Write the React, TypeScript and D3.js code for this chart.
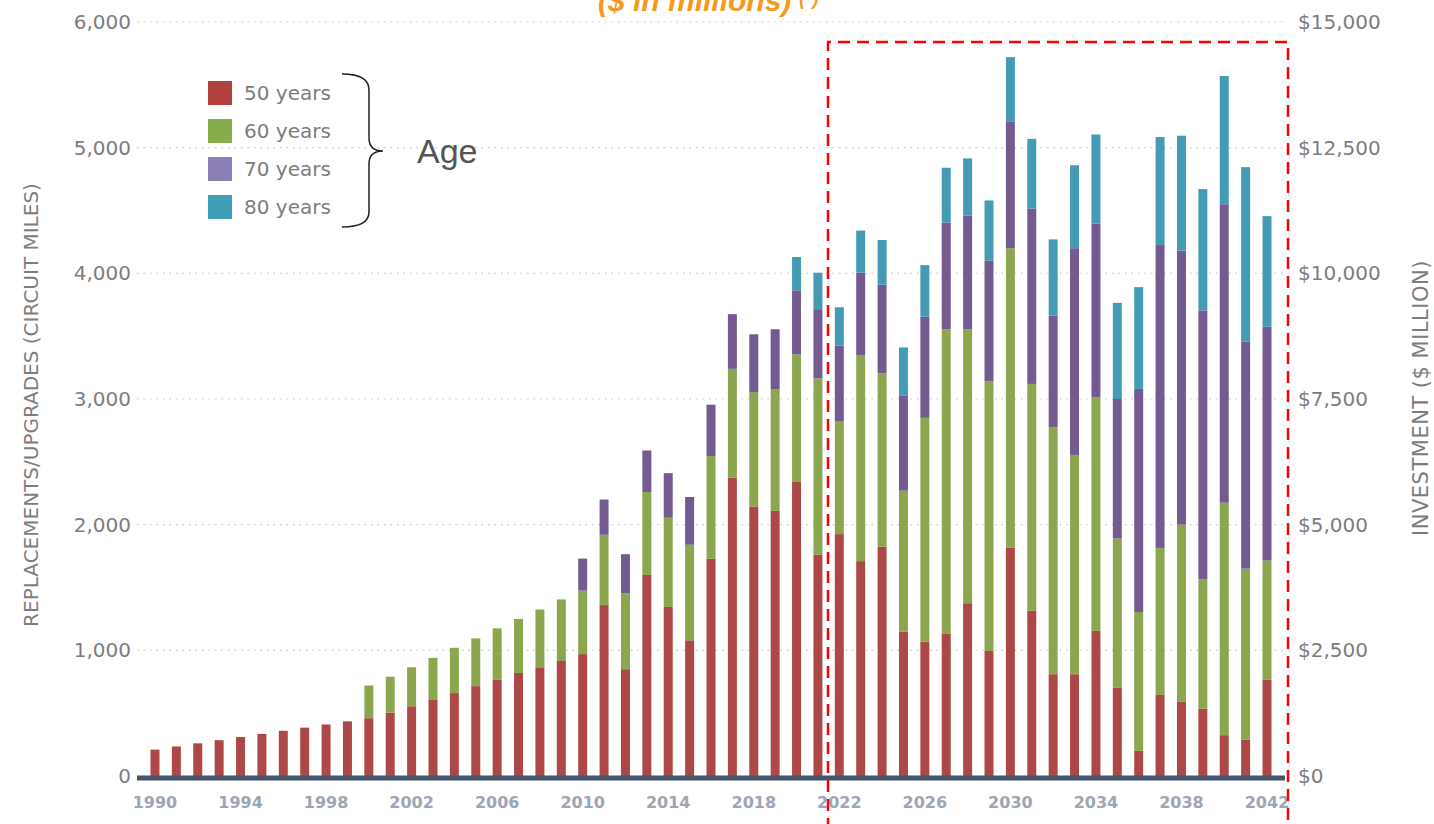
import React from "react";
import * as d3 from "d3";

const years = d3.range(1990, 2043);
const age50 = [210, 235, 260, 285, 310, 335, 360, 385, 410, 435, 460, 505, 555, 610, 660, 715, 765, 820, 865, 915, 970, 1360, 850, 1600, 1345, 1080, 1730, 2375, 2145, 2110, 2340, 1760, 1925, 1710, 1825, 1150, 1070, 1135, 1375, 995, 1815, 1315, 810, 810, 1155, 705, 200, 645, 590, 535, 325, 290, 765];
const age60 = [0, 0, 0, 0, 0, 0, 0, 0, 0, 0, 260, 285, 310, 330, 360, 380, 410, 430, 460, 490, 505, 560, 605, 660, 710, 760, 815, 865, 910, 965, 1015, 1405, 895, 1640, 1380, 1120, 1780, 2420, 2180, 2145, 2385, 1805, 1965, 1745, 1860, 1185, 1105, 1170, 1410, 1030, 1850, 1360, 950];
const age70 = [0, 0, 0, 0, 0, 0, 0, 0, 0, 0, 0, 0, 0, 0, 0, 0, 0, 0, 0, 0, 255, 280, 310, 330, 355, 380, 410, 435, 460, 480, 510, 550, 605, 655, 705, 755, 805, 850, 905, 960, 1010, 1395, 890, 1645, 1380, 1110, 1775, 2410, 2180, 2140, 2375, 1805, 1860];
const age80 = [0, 0, 0, 0, 0, 0, 0, 0, 0, 0, 0, 0, 0, 0, 0, 0, 0, 0, 0, 0, 0, 0, 0, 0, 0, 0, 0, 0, 0, 0, 265, 290, 305, 335, 355, 385, 410, 435, 455, 480, 510, 555, 605, 660, 710, 765, 810, 860, 915, 965, 1020, 1390, 880];

const seriesKeys = ["50 years", "60 years", "70 years", "80 years"];
const barColors = ["#ad4848", "#8ba64e", "#735a91", "#449bb3"];
const legendColors = ["#b0413e", "#86ad4b", "#8b7fb5", "#3fa0b5"];
const leftTicks = [0, 1000, 2000, 3000, 4000, 5000, 6000];
const rightTicks = [0, 2500, 5000, 7500, 10000, 12500, 15000];
const xTickYears = d3.range(1990, 2043, 4);

const W = 1434, H = 824;
const FONT = "'DejaVu Sans', 'Open Sans', sans-serif";
const GREY = "#7d7d7d";

const App = () => {
  const ref = React.useRef<SVGSVGElement>(null);

  React.useEffect(() => {
    const svg = d3.select(ref.current);
    svg.selectAll("*").remove();

    const x = d3.scaleBand<number>().domain(years).range([144.3, 1277.7]).paddingInner(0.58).paddingOuter(0.29);
    const y = d3.scaleLinear().domain([0, 6000]).range([776, 22]);
    const yRight = d3.scaleLinear().domain([0, 15000]).range([776, 22]);

    // orange subtitle, cut off at the top as in the source
    const sub = svg.append("text").attr("x", 598).attr("y", 11)
      .attr("font-family", "'Liberation Sans', Arial, sans-serif").attr("font-weight", "bold")
      .attr("font-style", "italic").attr("font-size", 30).attr("fill", "#f39a1e");
    sub.append("tspan").text("($ in millions)");
    sub.append("tspan").attr("dx", 8).attr("dy", -6).attr("font-size", 18).text("(*)");

    // gridlines
    svg.append("g").selectAll("line").data(leftTicks.slice(1)).join("line")
      .attr("x1", 137).attr("x2", 1285)
      .attr("y1", d => y(d)).attr("y2", d => y(d))
      .attr("stroke", "#c8c8c8").attr("stroke-width", 1.2).attr("stroke-dasharray", "1.5,5");

    // left tick labels
    svg.append("g").selectAll("text").data(leftTicks).join("text")
      .attr("x", 131).attr("y", d => y(d)).attr("dy", "0.35em").attr("text-anchor", "end")
      .attr("font-family", FONT).attr("font-size", 20).attr("fill", GREY)
      .text(d => d3.format(",")(d));

    // right tick labels
    svg.append("g").selectAll("text").data(rightTicks).join("text")
      .attr("x", 1298).attr("y", d => yRight(d)).attr("dy", "0.35em")
      .attr("font-family", FONT).attr("font-size", 20).attr("fill", GREY)
      .text(d => "$" + d3.format(",")(d));

    // axis titles
    svg.append("text").attr("transform", "translate(38,405) rotate(-90)").attr("text-anchor", "middle")
      .attr("font-family", FONT).attr("font-size", 20).attr("fill", GREY)
      .text("REPLACEMENTS/UPGRADES (CIRCUIT MILES)");
    svg.append("text").attr("transform", "translate(1428,398) rotate(-90)").attr("text-anchor", "middle")
      .attr("font-family", FONT).attr("font-size", 21).attr("letter-spacing", 0.5).attr("fill", GREY)
      .text("INVESTMENT ($ MILLION)");

    // stacked bars
    const table = years.map((yr, i) => ({ year: yr, "50 years": age50[i], "60 years": age60[i], "70 years": age70[i], "80 years": age80[i] }));
    const stacked = d3.stack<any>().keys(seriesKeys)(table);
    svg.append("g").selectAll("g").data(stacked).join("g")
      .attr("fill", (_, i) => barColors[i])
      .selectAll("rect").data(d => d.filter(s => s[1] > s[0])).join("rect")
      .attr("x", d => x(d.data.year)!)
      .attr("width", x.bandwidth())
      .attr("y", d => y(d[1]))
      .attr("height", d => y(d[0]) - y(d[1]));

    // baseline
    svg.append("line").attr("x1", 137).attr("x2", 1285).attr("y1", 778).attr("y2", 778)
      .attr("stroke", "#44546a").attr("stroke-width", 5);

    // x tick labels
    svg.append("g").selectAll("text").data(xTickYears).join("text")
      .attr("x", d => x(d)! + x.bandwidth() / 2).attr("y", 808).attr("text-anchor", "middle")
      .attr("font-family", FONT).attr("font-weight", "bold").attr("font-size", 16).attr("fill", "#9ea6b5")
      .text(d => d);

    // legend
    const legend = svg.append("g").selectAll("g").data(seriesKeys).join("g")
      .attr("transform", (_, i) => `translate(208,${81 + i * 38})`);
    legend.append("rect").attr("width", 24).attr("height", 24).attr("fill", (_, i) => legendColors[i]);
    legend.append("text").attr("x", 36).attr("y", 12).attr("dy", "0.35em")
      .attr("font-family", FONT).attr("font-size", 20).attr("fill", GREY).text(d => d);

    // brace and "Age"
    svg.append("path")
      .attr("d", "M342,74 Q369,74 369,90 L369,138 Q369,151 383,151 Q369,151 369,164 L369,212 Q369,227 342,227")
      .attr("fill", "none").attr("stroke", "#222").attr("stroke-width", 1.5);
    svg.append("text").attr("x", 417).attr("y", 163).attr("font-family", "'Liberation Sans', Arial, sans-serif")
      .attr("font-size", 34).attr("fill", "#555").text("Age");

    // red dashed forecast box
    svg.append("path").attr("d", "M828,830 L828,42 L1288,42 L1288,830")
      .attr("fill", "none").attr("stroke", "#ff0000").attr("stroke-width", 2.5).attr("stroke-dasharray", "12,7");
  }, []);

  return <svg ref={ref} width={W} height={H} style={{ position: "absolute", left: 0, top: 0, background: "#fff" }} />;
};

export default App;
